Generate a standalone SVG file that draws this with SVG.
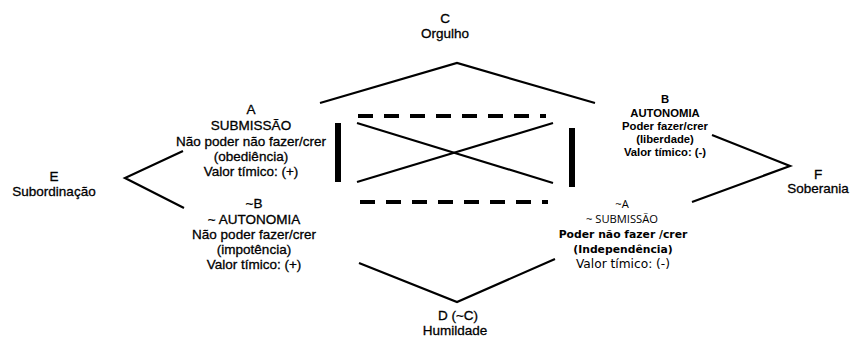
<svg xmlns="http://www.w3.org/2000/svg" width="853" height="337" viewBox="0 0 853 337">
<style>
  .bg { fill: #ffffff; }
  .ln { stroke: #000; stroke-width: 2.2; fill: none; stroke-linecap: butt; }
  .bar { stroke: #000; stroke-width: 6; fill: none; }
  .dash { stroke: #000; stroke-width: 4; fill: none; stroke-dasharray: 15 11; }
  text { font-family: "Liberation Sans", Arial, sans-serif; text-anchor: middle; fill: #000; }
  .r { font-size: 13.5px; stroke: #000; stroke-width: 0.3; }
  .b { font-size: 11.3px; font-weight: bold; }
  .na { font-family: "Open Sans", "Liberation Sans", sans-serif; font-size: 11.2px; }
  .nb { font-family: "DejaVu Sans", "Liberation Sans", sans-serif; font-size: 10.8px; font-weight: bold; }
  .nv { font-family: "DejaVu Sans", "Liberation Sans", sans-serif; font-size: 12.2px; }
</style>
<rect class="bg" x="0" y="0" width="853" height="337"/>
<g id="connectors">
  <polyline class="ln" points="320,103 457,63 595,103"/>
  <polyline class="ln" points="359,263 457,302 555,259"/>
  <polyline class="ln" points="183,151 125,178 184,208"/>
  <polyline class="ln" points="712,135 790,166 692,202"/>
  <line class="ln" x1="357" y1="123" x2="553" y2="183"/>
  <line class="ln" x1="357" y1="182" x2="553" y2="123"/>
  <line class="bar" x1="338" y1="123" x2="338" y2="182"/>
  <line class="bar" x1="572" y1="128" x2="572" y2="187"/>
  <line class="dash" x1="358" y1="116" x2="546" y2="116"/>
  <line class="dash" x1="360" y1="202" x2="548" y2="202"/>
</g>
<g id="node-C">
  <text class="r" x="445" y="23">C</text>
  <text class="r" x="445" y="38">Orgulho</text>
</g>
<g id="node-A">
  <text class="r" x="251" y="114">A</text>
  <text class="r" x="251" y="130">SUBMISSÃO</text>
  <text class="r" x="251" y="146">Não poder não fazer/crer</text>
  <text class="r" x="251" y="161">(obediência)</text>
  <text class="r" x="251" y="176">Valor tímico: (+)</text>
</g>
<g id="node-B">
  <text class="b" x="665" y="103">B</text>
  <text class="b" x="665" y="117">AUTONOMIA</text>
  <text class="b" x="665" y="130">Poder fazer/crer</text>
  <text class="b" x="665" y="143">(liberdade)</text>
  <text class="b" x="665" y="156">Valor tímico: (-)</text>
</g>
<g id="node-E">
  <text class="r" x="54" y="181">E</text>
  <text class="r" x="54" y="196">Subordinação</text>
</g>
<g id="node-F">
  <text class="r" x="818" y="179">F</text>
  <text class="r" x="818" y="193">Soberania</text>
</g>
<g id="node-notB">
  <text class="r" x="254" y="208">~B</text>
  <text class="r" x="254" y="224">~ AUTONOMIA</text>
  <text class="r" x="254" y="239">Não poder fazer/crer</text>
  <text class="r" x="254" y="254">(impotência)</text>
  <text class="r" x="254" y="269">Valor tímico: (+)</text>
</g>
<g id="node-notA">
  <text class="na" x="622" y="208">~A</text>
  <text class="na" x="622" y="223">~ SUBMISSÃO</text>
  <text class="nb" x="623" y="238">Poder não fazer /crer</text>
  <text class="nb" x="623" y="253">(Independência)</text>
  <text class="nv" x="623" y="268">Valor tímico: (-)</text>
</g>
<g id="node-D">
  <text class="r" x="458" y="320">D (~C)</text>
  <text class="r" x="455" y="335">Humildade</text>
</g>
</svg>
